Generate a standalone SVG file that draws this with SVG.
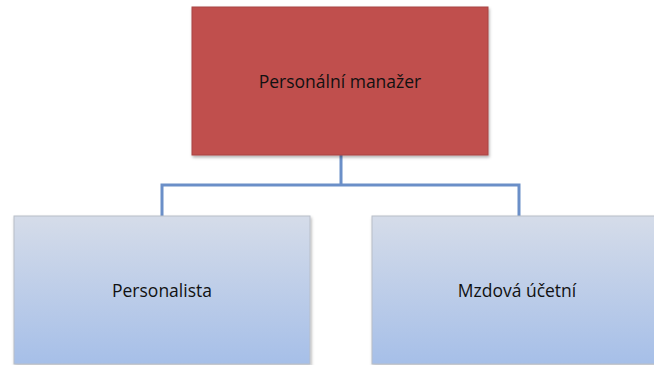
<svg xmlns="http://www.w3.org/2000/svg" width="654" height="365" viewBox="0 0 654 365">
<style>
.lbl{font-family:"Open Sans","Liberation Sans",sans-serif;font-size:17.5px;fill:#111;text-anchor:middle}
.conn{fill:none;stroke:#6B8FC8;stroke-width:3}
.child{fill:url(#g);stroke:#B8BEC8;stroke-width:1}
</style>
<defs>
<linearGradient id="g" x1="0" y1="0" x2="0" y2="1">
<stop offset="0" stop-color="#D5DCE9"/>
<stop offset="1" stop-color="#A6BFE8"/>
</linearGradient>
<filter id="sh" x="-5%" y="-5%" width="110%" height="115%">
<feDropShadow dx="1" dy="2" stdDeviation="1.5" flood-color="#000" flood-opacity="0.3"/>
</filter>
</defs>
<rect width="654" height="365" fill="#fff"/>
<g id="connectors">
<path class="conn" d="M341 155 V185 M162 216 V185 H519 V216"/>
</g>
<g id="node-manager">
<rect x="192" y="7" width="296" height="148" fill="#C0504D" stroke="#A84542" stroke-width="1" filter="url(#sh)"/>
<text class="lbl" x="340" y="88">Personální manažer</text>
</g>
<g id="node-personalista">
<rect class="child" x="14" y="216" width="296" height="148" filter="url(#sh)"/>
<text class="lbl" x="162" y="297">Personalista</text>
</g>
<g id="node-mzdova">
<rect class="child" x="372" y="216" width="296" height="148" filter="url(#sh)"/>
<text class="lbl" x="517" y="297">Mzdová účetní</text>
</g>
</svg>
